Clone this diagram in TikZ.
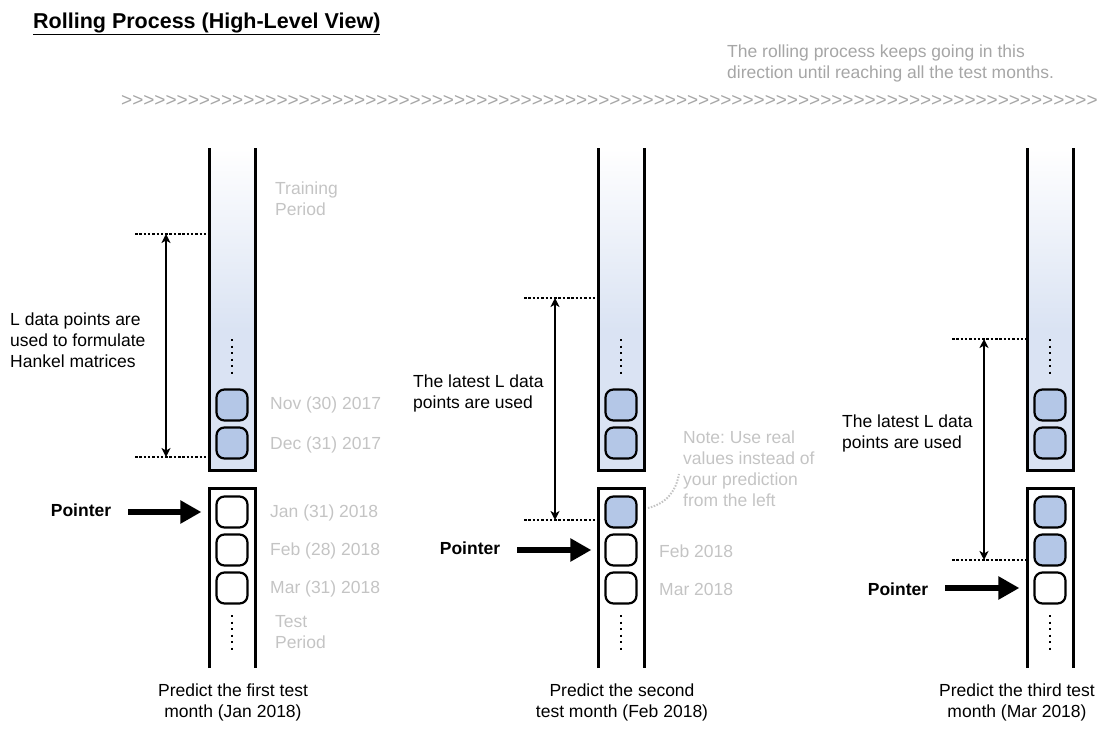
\documentclass[tikz,border=0pt]{standalone}
\usepackage{fontspec}
\setmainfont{Liberation Sans}
\newfontfamily\chevfont{Liberation Sans}
\usetikzlibrary{arrows.meta}
\frenchspacing

\definecolor{tubeblue}{HTML}{DAE3F3}
\definecolor{boxblue}{HTML}{B4C7E7}
\definecolor{labelgrey}{HTML}{C4C4C4}
\definecolor{topgrey}{HTML}{A6A6A6}

\newcommand\bodyfont{\fontsize{17.5}{21}\selectfont}
\newcommand\chevrons{>>>>>>>>>>>>>>>>>>>>>>>>>>>>>>>>>>>>>>>>>>>>>>>>>>>>>>>>>>>>>>>>>>>>>>>>>>>>>>>>>>>>>>>>}

\tikzset{
    tube/.style={line width=3pt},
    databox/.style={draw,line width=2.2pt,rounded corners=8pt,minimum width=31pt,minimum height=31pt,inner sep=0pt},
    realbox/.style={databox,fill=boxblue},
    emptybox/.style={databox,fill=white},
    greylabel/.style={text=labelgrey,anchor=west,align=left,inner sep=0pt},
    blacklabel/.style={anchor=west,align=left,inner sep=0pt},
    caption/.style={align=center,inner sep=0pt},
    spanline/.style={line width=2.8pt,dash pattern=on 2.5pt off 1.8pt},
    spanarrow/.style={{Stealth[length=9pt,width=9pt,inset=2.5pt]}-{Stealth[length=9pt,width=9pt,inset=2.5pt]},line width=2pt},
    vdots/.style={line width=2.5pt,dash pattern=on 2pt off 4.5pt},
    pointerarrow/.style={-{Triangle[length=21pt,width=22pt]},line width=6pt},
}

\begin{document}
\begin{tikzpicture}[x=1pt,y=-1pt,font=\bodyfont]
    \useasboundingbox (0,0) rectangle (1107,741);

    % header
    \node[blacklabel,font=\fontsize{21.5}{24}\selectfont\bfseries] (title) at (33,24) {\underline{Rolling Process (High-Level View)}};
    \node[blacklabel,text=topgrey] (direction) at (727,63) {The rolling process keeps going in this\\direction until reaching all the test months.};
    \node[blacklabel,text=topgrey,font=\chevfont\fontsize{19}{21}\selectfont] (chevrons) at (121,101) {\chevrons};

    % first test month
    \shade[top color=white,bottom color=tubeblue] (209,148) rectangle (255,330);
    \fill[tubeblue] (209,330) rectangle (255,470);
    \draw[tube] (209,148) -- (209,470) -- (255,470) -- (255,148);
    \draw[tube] (209,668) -- (209,488) -- (255,488) -- (255,668);
    \draw[vdots] (232,339) -- (232,375);
    \draw[vdots] (232,615) -- (232,652);
    \node[realbox] (nov1) at (232,405) {};
    \node[realbox] (dec1) at (232,443) {};
    \node[emptybox] (jan1) at (232,512) {};
    \node[emptybox] (feb1) at (232,550) {};
    \node[emptybox] (mar1) at (232,588) {};
    \node[greylabel] (train1) at (275,199) {Training\\Period};
    \node[greylabel] (novlab1) at (270,405) {Nov (30) 2017};
    \node[greylabel] (declab1) at (270,445) {Dec (31) 2017};
    \node[greylabel] (janlab1) at (270,513) {Jan (31) 2018};
    \node[greylabel] (feblab1) at (270,551) {Feb (28) 2018};
    \node[greylabel] (marlab1) at (270,589) {Mar (31) 2018};
    \node[greylabel] (test1) at (275,632) {Test\\Period};
    \coordinate (top1) at (135,234);
    \coordinate (bot1) at (135,457);
    \draw[spanline] (top1) -- (207.5,234);
    \draw[spanline] (bot1) -- (207.5,457);
    \draw[spanarrow] (166,234) -- (166,457);
    \node[blacklabel] (hankel) at (10,340) {L data points are\\used to formulate\\Hankel matrices};
    \node[font=\bodyfont\bfseries,inner sep=0pt] (ptr1) at (81,510) {Pointer};
    \draw[pointerarrow] ([xshift=17pt]ptr1.east |- jan1.west) -- ([xshift=-14pt]jan1.west);
    \node[caption] (cap1) at (233,702) {Predict the first test\\month (Jan 2018)};

    % second test month
    \shade[top color=white,bottom color=tubeblue] (598,148) rectangle (644,330);
    \fill[tubeblue] (598,330) rectangle (644,470);
    \draw[tube] (598,148) -- (598,470) -- (644,470) -- (644,148);
    \draw[tube] (598,668) -- (598,488) -- (644,488) -- (644,668);
    \draw[vdots] (621,339) -- (621,375);
    \draw[vdots] (621,615) -- (621,652);
    \node[realbox] (nov2) at (621,405) {};
    \node[realbox] (dec2) at (621,443) {};
    \node[realbox] (jan2) at (621,512) {};
    \node[emptybox] (feb2) at (621,550) {};
    \node[emptybox] (mar2) at (621,588) {};
    \node[greylabel] (note) at (683,469) {Note: Use real\\values instead of\\your prediction\\from the left};
    \draw[labelgrey,line width=2pt,dash pattern=on 1.5pt off 1.5pt] (648,508) .. controls (668,503) and (676,490) .. (679,474);
    \node[greylabel] (feblab2) at (659,551) {Feb 2018};
    \node[greylabel] (marlab2) at (659,589) {Mar 2018};
    \coordinate (top2) at (524,298);
    \coordinate (bot2) at (524,520);
    \draw[spanline] (top2) -- (596.5,298);
    \draw[spanline] (bot2) -- (596.5,520);
    \draw[spanarrow] (555,298) -- (555,520);
    \node[blacklabel] (latest2) at (413,393) {The latest L data\\points are used};
    \node[font=\bodyfont\bfseries,inner sep=0pt] (ptr2) at (470,548) {Pointer};
    \draw[pointerarrow] ([xshift=17pt]ptr2.east |- feb2.west) -- ([xshift=-13pt]feb2.west);
    \node[caption] (cap2) at (622,702) {Predict the second\\test month (Feb 2018)};

    % third test month
    \shade[top color=white,bottom color=tubeblue] (1027,148) rectangle (1073,330);
    \fill[tubeblue] (1027,330) rectangle (1073,470);
    \draw[tube] (1027,148) -- (1027,470) -- (1073,470) -- (1073,148);
    \draw[tube] (1027,668) -- (1027,488) -- (1073,488) -- (1073,668);
    \draw[vdots] (1050,339) -- (1050,375);
    \draw[vdots] (1050,615) -- (1050,652);
    \node[realbox] (nov3) at (1050,405) {};
    \node[realbox] (dec3) at (1050,443) {};
    \node[realbox] (jan3) at (1050,512) {};
    \node[realbox] (feb3) at (1050,550) {};
    \node[emptybox] (mar3) at (1050,588) {};
    \coordinate (top3) at (952,339);
    \coordinate (bot3) at (952,560);
    \draw[spanline] (top3) -- (1025.5,339);
    \draw[spanline] (bot3) -- (1025.5,560);
    \draw[spanarrow] (984,339) -- (984,560);
    \node[blacklabel] (latest3) at (842,433) {The latest L data\\points are used};
    \node[font=\bodyfont\bfseries,inner sep=0pt] (ptr3) at (898,589) {Pointer};
    \draw[pointerarrow] ([xshift=17pt]ptr3.east |- mar3.west) -- ([xshift=-14pt]mar3.west);
    \node[caption] (cap3) at (1017,702) {Predict the third test\\month (Mar 2018)};
\end{tikzpicture}
\end{document}
